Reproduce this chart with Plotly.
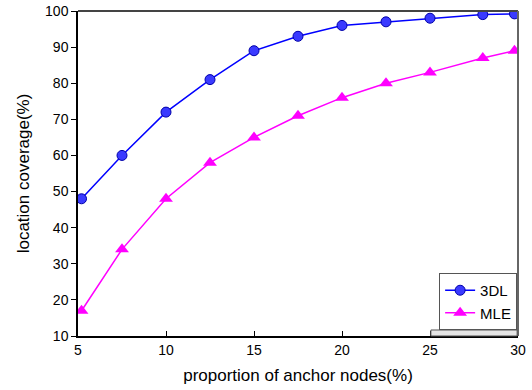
import plotly.graph_objects as go

x_vals = [5.2, 7.5, 10, 12.5, 15, 17.5, 20, 22.5, 25, 28, 29.8]
dl3 = [48, 60, 72, 81, 89, 93, 96, 97, 98, 99, 99.2]
mle = [17, 34, 48, 58, 65, 71, 76, 80, 83, 87, 89]

x_ticks = [5, 10, 15, 20, 25, 30]
y_ticks = [10, 20, 30, 40, 50, 60, 70, 80, 90, 100]

fig = go.Figure()
fig.add_trace(go.Scatter(
    x=x_vals, y=dl3, name="3DL", mode="lines+markers",
    line=dict(color="#0000ff", width=1.5),
    marker=dict(symbol="circle", size=10, color="#3a3aff",
                line=dict(color="#0000aa", width=1)),
))
fig.add_trace(go.Scatter(
    x=x_vals, y=mle, name="MLE", mode="lines+markers",
    line=dict(color="#ff00ff", width=1.5),
    marker=dict(symbol="triangle-up", size=12, color="#ff00ff",
                line=dict(color="#ff00ff", width=0)),
))

font_family = "Liberation Sans, Arial, sans-serif"

fig.update_layout(
    width=532, height=390,
    margin=dict(l=78, r=14, t=11, b=54, autoexpand=False),
    paper_bgcolor="white", plot_bgcolor="white",
    font=dict(family=font_family, size=14, color="black"),
    showlegend=True,
    legend=dict(
        x=0.998, xanchor="right", y=0.0185, yanchor="bottom",
        bordercolor="#555555", borderwidth=1, bgcolor="white",
        font=dict(size=15), tracegroupgap=0, itemwidth=30,
    ),
    xaxis=dict(
        range=[5, 30], tickvals=x_ticks, showgrid=False, zeroline=False,
        showline=True, linecolor="black", linewidth=1.5, automargin=False,
        ticks="inside", ticklen=5, tickcolor="black",
        title=dict(text="proportion of anchor nodes(%)", font=dict(size=17), standoff=13),
    ),
    yaxis=dict(
        range=[10, 100], tickvals=y_ticks, showgrid=False, zeroline=False,
        showline=True, linecolor="black", linewidth=1.5, automargin=False,
        ticks="outside", ticklen=5, tickcolor="black",
        title=dict(text="location coverage(%)", font=dict(size=17), standoff=11),
    ),
    shapes=[
        dict(type="line", xref="paper", yref="paper", x0=0, x1=1, y0=1, y1=1,
             line=dict(color="#444444", width=2)),
        dict(type="line", xref="paper", yref="paper", x0=1, x1=1, y0=0, y1=1,
             line=dict(color="#666666", width=2)),
        dict(type="rect", xref="paper", yref="paper", x0=0.802, x1=0.998, y0=0.0, y1=0.0185,
             line=dict(color="#555555", width=1), fillcolor="#e6e6e6"),
    ],
)

fig.write_html(
    "out.html",
    config={"displayModeBar": False},
    post_script="document.body.style.margin='0';document.body.style.overflow='hidden';",
)
